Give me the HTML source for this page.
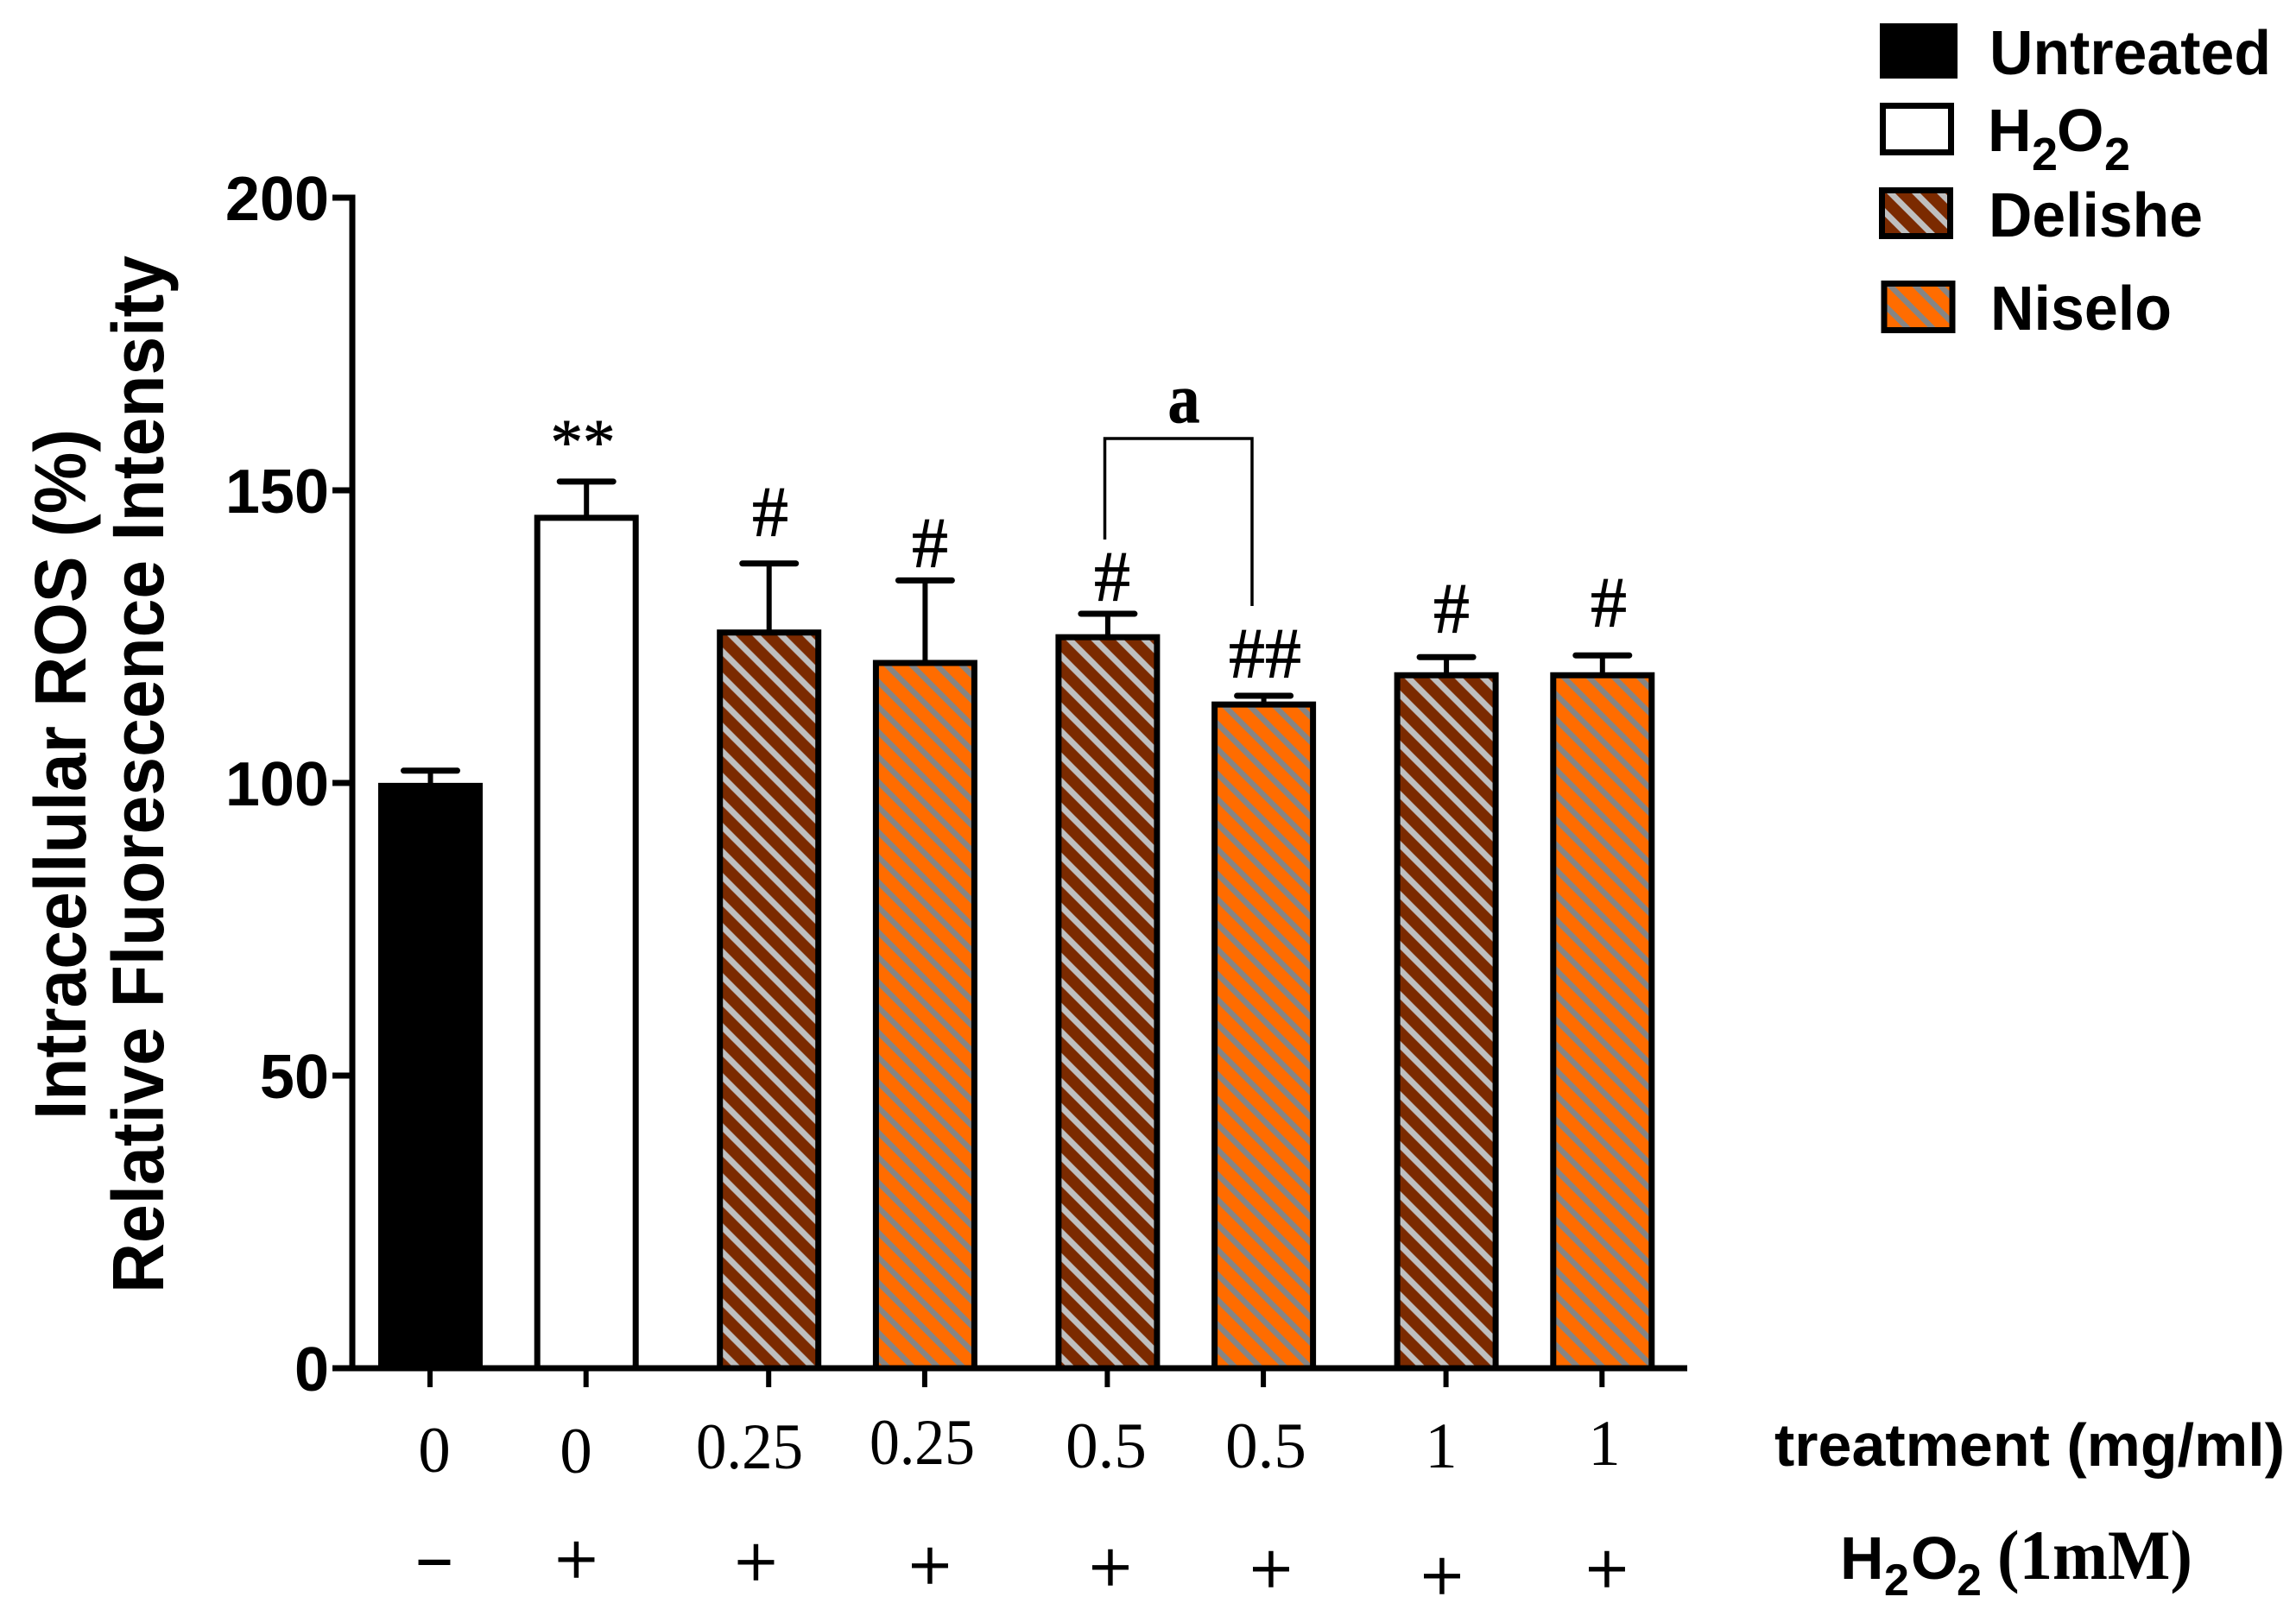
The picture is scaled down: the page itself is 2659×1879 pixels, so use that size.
<!DOCTYPE html>
<html lang="en">
<head>
<meta charset="utf-8">
<title>Intracellular ROS bar chart</title>
<style>
html,body{margin:0;padding:0;background:#fff;width:2659px;height:1879px;overflow:hidden}
svg{display:block}
.sans{font-family:"Liberation Sans",Arial,sans-serif;font-weight:700}
.serif{font-family:"Liberation Serif","Times New Roman",serif}
</style>
</head>
<body>
<svg id="chart" xmlns="http://www.w3.org/2000/svg" width="2659" height="1879" viewBox="0 0 2659 1879">
  <defs id="defs">
    <pattern id="legend-hatch-delishe" patternUnits="userSpaceOnUse" width="29" height="29" x="2192" y="226">
      <rect width="29" height="29" fill="#7b2a00"/>
      <path d="M-29,0L29,58M0,0L29,29M-29,-29L29,29M0,-29L58,29" stroke="#bfbfbf" stroke-width="7" fill="none"/>
    </pattern>
    <pattern id="legend-hatch-niselo" patternUnits="userSpaceOnUse" width="29" height="29" x="2192" y="334">
      <rect width="29" height="29" fill="#ff6c00"/>
      <path d="M-29,0L29,58M0,0L29,29M-29,-29L29,29M0,-29L58,29" stroke="#858585" stroke-width="6.4" fill="none"/>
    </pattern>
  </defs>

  <!-- Y axis title -->
  <text class="sans" transform="translate(99,1297) rotate(-90)" font-size="84" textLength="800" lengthAdjust="spacingAndGlyphs">Intracellular ROS (%)</text>
  <text class="sans" transform="translate(189,1498) rotate(-90)" font-size="84" textLength="1202" lengthAdjust="spacingAndGlyphs">Relative Fluorescence Intensity</text>

  <g id="plot"></g>

  <!-- Significance annotations -->
  <g class="serif" text-anchor="middle" stroke="#000" stroke-width="0.8">
    <text x="675" y="537" font-size="75">**</text>
    <text x="892" y="621" font-size="84">#</text>
    <text x="1077" y="657" font-size="84">#</text>
    <text x="1288" y="696" font-size="84">#</text>
    <text x="1465" y="785" font-size="84">##</text>
    <text x="1681" y="733" font-size="84">#</text>
    <text x="1863" y="726" font-size="84">#</text>
    <text x="1371" y="489" font-size="82" font-weight="700" textLength="37" lengthAdjust="spacingAndGlyphs">a</text>
  </g>
  <path d="M1279.5,625V508H1450V702" fill="none" stroke="#000" stroke-width="3.5"/>

  <!-- Treatment row -->
  <g class="serif" font-size="75" text-anchor="middle">
    <text x="503" y="1705">0</text>
    <text x="667" y="1706">0</text>
    <text x="868" y="1701" textLength="124" lengthAdjust="spacingAndGlyphs">0.25</text>
    <text x="1068" y="1696" textLength="122" lengthAdjust="spacingAndGlyphs">0.25</text>
    <text x="1281" y="1700">0.5</text>
    <text x="1466" y="1700">0.5</text>
    <text x="1669" y="1700">1</text>
    <text x="1858" y="1697">1</text>
  </g>
  <text class="sans" x="2055" y="1698" font-size="70" textLength="591" lengthAdjust="spacingAndGlyphs">treatment (mg/ml)</text>

  <!-- H2O2 row -->
  <g class="serif" font-size="88" text-anchor="middle" stroke="#000" stroke-width="1">
    <text x="503" y="1825" font-size="66" stroke-width="3">–</text>
    <text x="667.5" y="1836">+</text>
    <text x="875.5" y="1839">+</text>
    <text x="1077" y="1843">+</text>
    <text x="1286" y="1845">+</text>
    <text x="1472" y="1847">+</text>
    <text x="1670" y="1855">+</text>
    <text x="1861" y="1847">+</text>
  </g>
  <text class="sans" font-size="70" y="1829"><tspan x="2131" y="1829">H</tspan><tspan x="2182" y="1848" font-size="52">2</tspan><tspan x="2213" y="1829">O</tspan><tspan x="2266" y="1848" font-size="52">2</tspan></text>
  <text class="serif" x="2313" y="1829" font-size="82" font-weight="700" textLength="226" lengthAdjust="spacingAndGlyphs">(1mM)</text>

  <!-- Legend -->
  <g>
    <rect x="2177" y="27" width="90" height="64" fill="#000"/>
    <text class="sans" x="2304" y="86" font-size="72" textLength="326" lengthAdjust="spacingAndGlyphs">Untreated</text>
    <rect x="2180.5" y="122.5" width="79" height="54" fill="#fff" stroke="#000" stroke-width="7"/>
    <text class="sans" font-size="70" y="175"><tspan x="2302" y="175">H</tspan><tspan x="2353" y="197" font-size="54">2</tspan><tspan x="2382" y="175">O</tspan><tspan x="2437" y="197" font-size="54">2</tspan></text>
    <rect x="2179.5" y="220.5" width="79" height="53" fill="url(#legend-hatch-delishe)" stroke="#000" stroke-width="7"/>
    <text class="sans" x="2303" y="274" font-size="72" textLength="248" lengthAdjust="spacingAndGlyphs">Delishe</text>
    <rect x="2182" y="328.5" width="79" height="54" fill="url(#legend-hatch-niselo)" stroke="#000" stroke-width="7"/>
    <text class="sans" x="2305" y="382" font-size="72" textLength="210" lengthAdjust="spacingAndGlyphs">Niselo</text>
  </g>
</svg>

<script>
// ---- chart data ----
const categories = ["Untreated", "H2O2", "Delishe 0.25", "Niselo 0.25", "Delishe 0.5", "Niselo 0.5", "Delishe 1", "Niselo 1"];
const seriesKinds = ["untreated", "h2o2", "delishe", "niselo", "delishe", "niselo", "delishe", "niselo"];
const meanValues = [99.5, 145.3, 125.7, 120.5, 124.9, 113.4, 118.4, 118.4];
const errorValues = [2.6, 6.2, 11.8, 14.1, 4.0, 1.5, 3.1, 3.4];
const yTickValues = [0, 50, 100, 150, 200];

// ---- axis functions ----
function yScale(v) { return 1585 - v * 6.78; }
function xScale(i) { return 498 + 180.7 * i + 30.8 * Math.floor(i / 2); }

const NS = "http://www.w3.org/2000/svg";
const plot = document.getElementById("plot");
const defs = document.getElementById("defs");

function make(tag, attrs, parent) {
  const el = document.createElementNS(NS, tag);
  for (const k in attrs) el.setAttribute(k, attrs[k]);
  parent.appendChild(el);
  return el;
}

const hatchColors = {
  delishe: { bg: "#7b2a00", stripe: "#bfbfbf", w: 7 },
  niselo: { bg: "#ff6c00", stripe: "#858585", w: 6.4 }
};

// bars and error bars
categories.forEach(function (name, i) {
  const cx = xScale(i) + 0.5;
  const top = yScale(meanValues[i]);
  const errY = yScale(meanValues[i] + errorValues[i]);
  const kind = seriesKinds[i];

  const stem = make("line", { x1: cx, x2: cx, y1: errY, y2: top, stroke: "#000", "stroke-width": 6 }, plot);
  
  

  const cap = make("line", { x1: cx - 31, x2: cx + 31, y1: errY, y2: errY, stroke: "#000", "stroke-width": 7, "stroke-linecap": "round" }, plot);
  
  

  let fill = kind === "untreated" ? "#000" : "#fff";
  if (hatchColors[kind]) {
    const id = "hatch-" + i;
    const c = hatchColors[kind];
    const pat = make("pattern", { id: id, patternUnits: "userSpaceOnUse", width: 29, height: 29, x: cx - 53.5 + 10, y: top + 3.5 }, defs);
    make("rect", { width: 29, height: 29, fill: c.bg }, pat);
    make("path", { d: "M-29,0L29,58M0,0L29,29M-29,-29L29,29M0,-29L58,29", stroke: c.stripe, "stroke-width": c.w, fill: "none" }, pat);
    fill = "url(#" + id + ")";
  }
  const bar = make("rect", { x: cx - 57, y: top, width: 114, height: 1585 - top, fill: fill, stroke: "#000", "stroke-width": 7 }, plot);
  
  

  const tick = make("line", { x1: xScale(i), x2: xScale(i), y1: 1585, y2: 1607, stroke: "#000", "stroke-width": 6 }, plot);
  
  
});

// y axis
const yAxisLine = make("line", { x1: 408, x2: 408, y1: yScale(200) - 3.5, y2: 1588.5, stroke: "#000", "stroke-width": 7 }, plot);



const xAxisLine = make("line", { x1: 386, x2: 1954, y1: 1585, y2: 1585, stroke: "#000", "stroke-width": 7 }, plot);



yTickValues.forEach(function (v) {
  const y = yScale(v);
  const tick = make("line", { x1: 385, x2: 408, y1: y, y2: y, stroke: "#000", "stroke-width": 7 }, plot);
  
  

  const label = make("text", { x: 381, y: y + 26, "text-anchor": "end", "font-size": 72, "class": "sans" }, plot);
  
  
  label.textContent = String(v);
});
</script>
</body>
</html>
